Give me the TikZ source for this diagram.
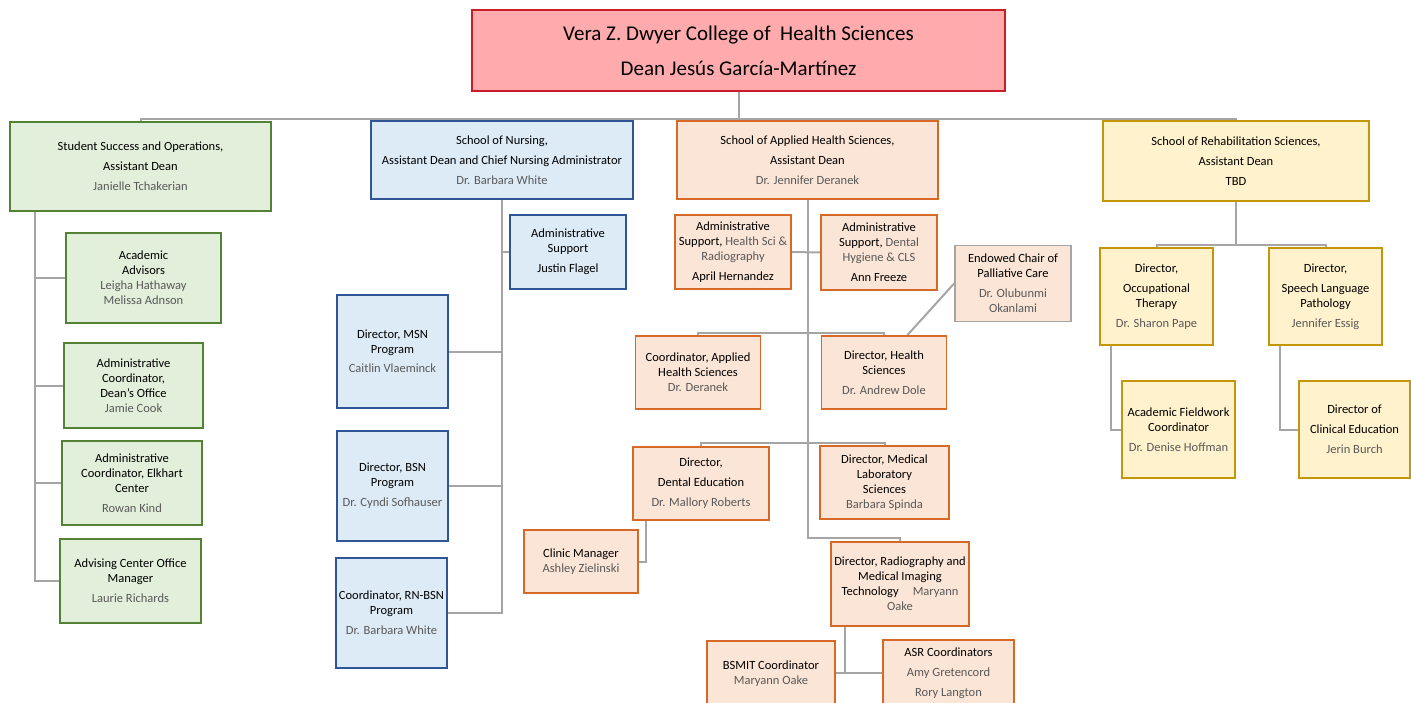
\documentclass[tikz,border=0pt]{standalone}
\usepackage{fontspec}
\setmainfont{Carlito}
\usetikzlibrary{backgrounds}
\definecolor{deanfill}{RGB}{255,171,173}
\definecolor{deanline}{RGB}{200,30,40}
\definecolor{grfill}{RGB}{226,239,218}
\definecolor{grline}{RGB}{84,130,53}
\definecolor{blfill}{RGB}{221,235,247}
\definecolor{blline}{RGB}{47,85,151}
\definecolor{orfill}{RGB}{251,229,214}
\definecolor{orline}{RGB}{214,105,40}
\definecolor{yefill}{RGB}{255,242,204}
\definecolor{yeline}{RGB}{196,150,10}
\definecolor{edgegray}{RGB}{165,165,165}
\definecolor{namegray}{RGB}{89,89,89}
\newcommand{\nm}[1]{\textcolor{namegray}{#1}}

\begin{document}
\begin{tikzpicture}[x=1pt,y=-1pt,
	unit/.style = {draw, line width=1.8pt, align=center, inner sep=1pt, text=black,
		font=\fontsize{12.5}{15}\selectfont},
	wh/.style 2 args = {minimum width=#1, minimum height=#2},
	dean unit/.style = {unit, fill=deanfill, draw=deanline, font=\fontsize{21}{25}\selectfont},
	green unit/.style = {unit, fill=grfill, draw=grline},
	blue unit/.style = {unit, fill=blfill, draw=blline},
	orange unit/.style = {unit, fill=orfill, draw=orline},
	gray unit/.style = {unit, fill=orfill, draw=edgegray},
	gold unit/.style = {unit, fill=yefill, draw=yeline},
	link/.style = {draw=edgegray, line width=2pt}]
	
	\useasboundingbox (0,0) rectangle (1411,702);
	
	% dean
	\node[dean unit, wh={533}{81}] (dean) at (738.5,50.5) {Vera Z. Dwyer College of~ Health Sciences\\[10pt] Dean Jesús García-Martínez};
	
	% assistant deans
	\node[green unit, wh={261}{89}] (ssa) at (140.5,166.5) {Student Success and Operations,\\[5pt] Assistant Dean\\[5pt] \nm{Janielle Tchakerian}};
	\node[blue unit, wh={262}{78}] (son) at (502,160) {School of Nursing,\\[5pt] Assistant Dean and Chief Nursing Administrator\\[5pt] \nm{Dr. Barbara White}};
	\node[orange unit, wh={261}{78}] (sahs) at (807.5,160) {School of Applied Health Sciences,\\[5pt] Assistant Dean\\[5pt] \nm{Dr. Jennifer Deranek}};
	\node[gold unit, wh={266}{80}] (srs) at (1236,161) {School of Rehabilitation Sciences,\\[5pt] Assistant Dean\\[5pt] TBD};
	
	% student success
	\node[green unit, wh={155}{90}] (adv) at (143.5,278) {Academic\\ Advisors\\ \nm{Leigha Hathaway}\\ \nm{Melissa Adnson}};
	\node[green unit, wh={139}{85}] (dco) at (133.5,385.5) {Administrative\\ Coordinator,\\ Dean’s Office\\ \nm{Jamie Cook}};
	\node[green unit, wh={140}{84}] (eco) at (132,483) {Administrative\\ Coordinator, Elkhart\\ Center\\[5pt] \nm{Rowan Kind}};
	\node[green unit, wh={141}{84}] (acm) at (130.5,581) {Advising Center Office\\ Manager\\[5pt] \nm{Laurie Richards}};
	
	% nursing
	\node[blue unit, wh={116}{74}] (nas) at (568,252) {Administrative\\ Support\\[5pt] Justin Flagel};
	\node[blue unit, wh={111}{113}] (msn) at (392.5,351.5) {Director, MSN\\ Program\\[4pt] \nm{Caitlin Vlaeminck}};
	\node[blue unit, wh={111}{110}] (bsn) at (392.5,486) {Director, BSN\\ Program\\[5pt] \nm{Dr. Cyndi Sofhauser}};
	\node[blue unit, wh={111}{110}] (rnb) at (391.5,613) {Coordinator, RN-BSN\\ Program\\[5pt] \nm{Dr. Barbara White}};
	
	% applied health sciences
	\node[orange unit, wh={116}{74}] (hsa) at (733,252) {Administrative\\ Support, \nm{Health Sci \&}\\ \nm{Radiography}\\[5pt] April Hernandez};
	\node[orange unit, wh={116}{75}] (dsa) at (879,252.5) {Administrative\\ Support, \nm{Dental}\\ \nm{Hygiene \& CLS}\\[5pt] Ann Freeze};
	\node[gray unit, wh={116}{76}] (ecp) at (1013,283.5) {Endowed Chair of\\ Palliative Care\\[5pt] \nm{Dr. Olubunmi}\\ \nm{Okanlami}};
	\node[orange unit, wh={125}{73}] (cah) at (698,372.5) {Coordinator, Applied\\ Health Sciences\\ \nm{Dr. Deranek}};
	\node[orange unit, wh={125}{73}] (dhs) at (884,372.5) {Director, Health\\ Sciences\\[5pt] \nm{Dr. Andrew Dole}};
	\node[orange unit, wh={136}{73}] (dde) at (701,483.5) {Director,\\[5pt] Dental Education\\[5pt] \nm{Dr. Mallory Roberts}};
	\node[orange unit, wh={129}{73}] (dml) at (884.5,482.5) {Director, Medical\\ Laboratory\\ Sciences\\ \nm{Barbara Spinda}};
	\node[orange unit, wh={114}{63}] (clm) at (581,561.5) {Clinic Manager\\ \nm{Ashley Zielinski}};
	\node[orange unit, wh={138}{84}] (drt) at (900,584) {Director, Radiography and\\ Medical Imaging\\ Technology\hspace{14pt}\nm{Maryann}\\ \nm{Oake}};
	\node[orange unit, wh={128}{66}] (bsm) at (771,674) {BSMIT Coordinator\\ \nm{Maryann Oake}};
	\node[orange unit, wh={131}{66}] (asr) at (948.5,673) {ASR Coordinators\\[5pt] \nm{Amy Gretencord}\\[5pt] \nm{Rory Langton}};
	
	% rehabilitation sciences
	\node[gold unit, wh={113}{97}] (dot) at (1156.5,296.5) {Director,\\[5pt] Occupational\\ Therapy\\[5pt] \nm{Dr. Sharon Pape}};
	\node[gold unit, wh={113}{97}] (dsl) at (1325.5,296.5) {Director,\\[5pt] Speech Language\\ Pathology\\[5pt] \nm{Jennifer Essig}};
	\node[gold unit, wh={113}{97}] (afc) at (1178.5,429.5) {Academic Fieldwork\\ Coordinator\\[5pt] \nm{Dr. Denise Hoffman}};
	\node[gold unit, wh={111}{97}] (dce) at (1354.5,429.5) {Director of\\[5pt] Clinical Education\\[5pt] \nm{Jerin Burch}};
	
	\begin{pgfonlayer}{background}
	% top level
	\coordinate (top) at (738.5,119);
	\path[link] (dean.south) -- (top);
	\path[link] (ssa.north) |- (top) -| (srs.north);
	\path[link] (son.north) -- (son.north |- top);
	\path[link] (sahs.north) -- (sahs.north |- top);
	
	% student success
	\path (ssa.south west) ++(26,0) coordinate (lt);
	\path[link] (lt) |- (acm.west);
	\foreach \n in {adv,dco,eco}
		\path[link] (\n.west) -- (\n.west -| lt);
	
	% nursing
	\path[link] (son.south) |- (rnb.east);
	\path[link] (nas.west) -- (nas.west -| son.south);
	\foreach \n in {msn,bsn}
		\path[link] (\n.east) -- (\n.east -| son.south);
	
	% applied health sciences
	\coordinate (ab) at (807.5,538);
	\coordinate (ah) at (807.5,333);
	\coordinate (ad) at (807.5,443);
	\coordinate (rb) at (845,672.5);
	\path[link] (sahs.south) -- (ab) -| (drt.north);
	\path[link] (hsa.east) -- (dsa.west);
	\path[link] (cah.north) |- (ah) -| (dhs.north);
	\path[link] (dde.north) |- (ad) -| (dml.north);
	\path[link] (ecp.west) -- (dhs.58);
	\path[link] (dde.south west) ++(14,0) |- (clm.east);
	\path[link] (drt.south -| rb) -- (rb);
	\path[link] (bsm.east |- rb) -- (asr.west |- rb);
	
	% rehabilitation sciences
	\coordinate (rt) at (1236,245);
	\path[link] (srs.south) -- (rt);
	\path[link] (dot.north) |- (rt) -| (dsl.north);
	\path[link] (dot.south west) ++(12,0) |- (afc.west);
	\path[link] (dsl.south west) ++(12,0) |- (dce.west);
	\end{pgfonlayer}
\end{tikzpicture}
\end{document}
